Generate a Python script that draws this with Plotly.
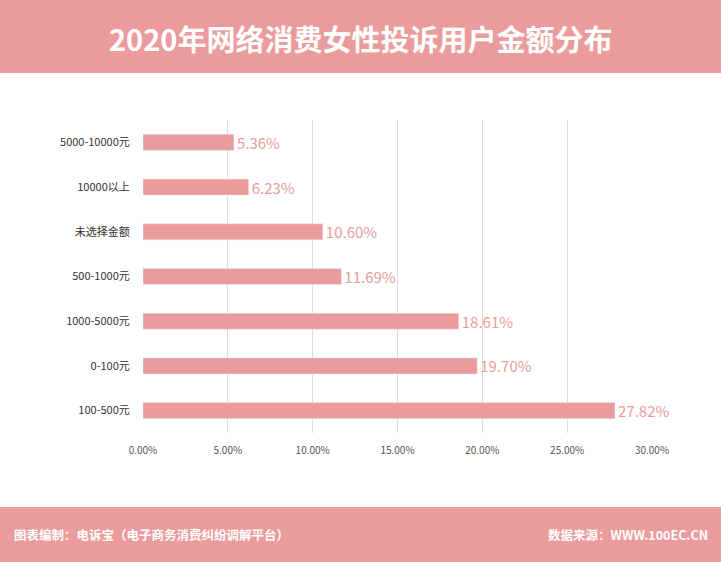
import plotly.graph_objects as go

categories = ["100-500元", "0-100元", "1000-5000元", "500-1000元", "未选择金额", "10000以上", "5000-10000元"]
values = [27.82, 19.70, 18.61, 11.69, 10.60, 6.23, 5.36]
tick_vals = [0, 5, 10, 15, 20, 25, 30]
tick_text = ["0.00%", "5.00%", "10.00%", "15.00%", "20.00%", "25.00%", "30.00%"]

W, H = 721, 562
L, R, T, B = 143, 69, 120, 129
pink = "#EA9C9D"

def py(pix):
    return (H - B - pix) / (H - T - B)
def px(pix):
    return (pix - L) / (W - L - R)

fig = go.Figure(go.Bar(
    y=categories, x=values, orientation="h", width=0.36,
    marker_color=pink, text=[f"{v:.2f}%" for v in values],
    textposition="outside", cliponaxis=False, constraintext="none",
    textfont=dict(color=pink, size=15, family="Noto Sans CJK SC"),
))
fig.update_layout(
    width=W, height=H, margin=dict(l=L, r=R, t=T, b=B),
    paper_bgcolor="white", plot_bgcolor="white", showlegend=False,
    font=dict(family="Noto Sans CJK SC", color="#444"),
    xaxis=dict(range=[0, 30], tickvals=tick_vals, ticktext=tick_text,
               showgrid=True, gridcolor="#DDDDDD", zeroline=False,
               tickfont=dict(size=10, color="#555"), ticks="outside",
               ticklen=8, tickcolor="white", fixedrange=True),
    yaxis=dict(tickfont=dict(size=11, color="#333"), ticks="outside",
               ticklen=10, tickcolor="white", showline=False),
    shapes=[
        dict(type="rect", xref="paper", yref="paper", x0=px(0), x1=px(W),
             y0=py(73), y1=py(0), fillcolor=pink, line_width=0, layer="below"),
        dict(type="rect", xref="paper", yref="paper", x0=px(0), x1=px(W),
             y0=py(H), y1=py(507), fillcolor=pink, line_width=0, layer="below"),
    ],
    annotations=[
        dict(xref="paper", yref="paper", x=0.5 * (px(0) + px(W)), y=py(38),
             xanchor="center", yanchor="middle",
             text="<b>2020年网络消费女性投诉用户金额分布</b>", showarrow=False,
             font=dict(size=29, color="white", family="Noto Sans CJK SC")),
        dict(xref="paper", yref="paper", x=px(12), y=py(534), xanchor="left", yanchor="middle",
             text="<b>图表编制：电诉宝（电子商务消费纠纷调解平台）</b>", showarrow=False,
             font=dict(size=12.5, color="white", family="Noto Sans CJK SC")),
        dict(xref="paper", yref="paper", x=px(710), y=py(534), xanchor="right", yanchor="middle",
             text="<b>数据来源：WWW.100EC.CN</b>", showarrow=False,
             font=dict(size=12.5, color="white", family="Noto Sans CJK SC")),
    ],
)
fig.write_html("out.html", config={"displayModeBar": False})
with open("out.html", encoding="utf-8") as f:
    html = f.read()
html = html.replace("<head>", "<head><style>html,body{margin:0;padding:0;overflow:hidden}</style>", 1)
with open("out.html", "w", encoding="utf-8") as f:
    f.write(html)
